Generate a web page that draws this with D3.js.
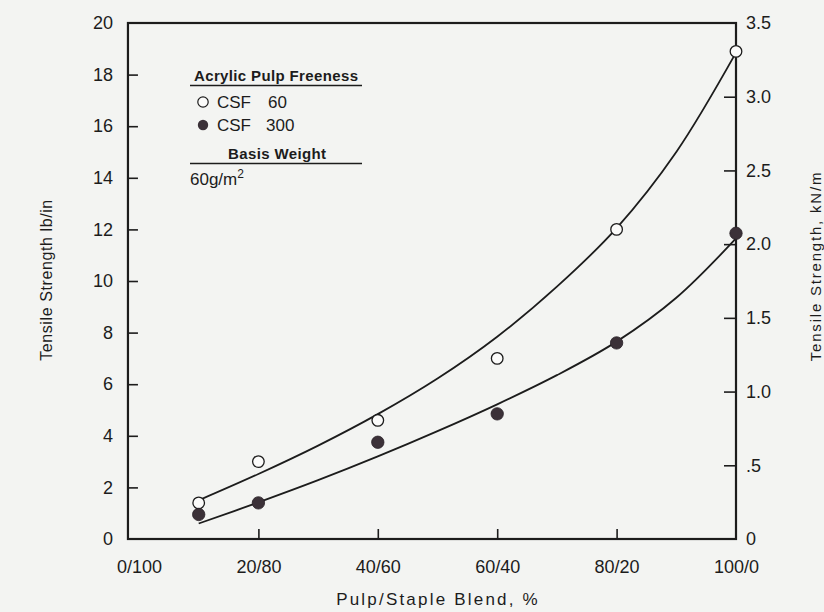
<!DOCTYPE html>
<html>
<head>
<meta charset="utf-8">
<script src="https://cdn.jsdelivr.net/npm/d3@7"></script>
<style>
  html, body { margin: 0; padding: 0; background: #f3f4f2; }
  svg { display: block; font-family: "Liberation Sans", Arial, sans-serif; }
</style>
</head>
<body>
<div id="chart"></div>
<script>
// blend categories (pulp % of pulp/staple blend)
var blendTicks = [0, 20, 40, 60, 80, 100];
var blendLabels = ["0/100", "20/80", "40/60", "60/40", "80/20", "100/0"];

// measured points, lb/in
var pointX = [10, 20, 40, 60, 80, 100];
var csf60 = [1.4, 3.0, 4.6, 7.0, 12.0, 18.9];
var csf300 = [0.95, 1.4, 3.75, 4.85, 7.6, 11.85];

// fitted curves
var fitX = [10, 20, 30, 40, 50, 60, 70, 80, 90, 100];
var fit60 = [1.5, 2.52, 3.62, 4.84, 6.22, 7.84, 9.78, 12.05, 15.0, 18.85];
var fit300 = [0.6, 1.42, 2.28, 3.2, 4.18, 5.22, 6.35, 7.65, 9.35, 11.65];

var leftTicks = [0, 2, 4, 6, 8, 10, 12, 14, 16, 18, 20];
var rightTicks = [0, 0.5, 1.0, 1.5, 2.0, 2.5, 3.0, 3.5];

var W = 824, H = 612;
var ink = "#1c1c1c", dotFill = "#3b3138";

var svg = d3.select("#chart").append("svg")
  .attr("width", W).attr("height", H);

svg.append("rect").attr("width", W).attr("height", H).attr("fill", "#f3f4f2");

var x = d3.scaleLinear().domain([0, 100]).range([139, 736]);
var y = d3.scaleLinear().domain([0, 20]).range([539, 23]);
var yKn = d3.scaleLinear().domain([0, 3.5]).range([539, 23]);
var left = x(-1.85), right = x(100);

// frame
svg.append("rect")
  .attr("x", left).attr("y", y(20))
  .attr("width", right - left).attr("height", y(0) - y(20))
  .attr("fill", "none").attr("stroke", ink).attr("stroke-width", 2.2);

// left axis
var gl = svg.append("g")
  .attr("transform", "translate(" + left + ",0)")
  .call(d3.axisLeft(y).tickValues(leftTicks).tickSize(-10).tickSizeOuter(0).tickPadding(15));
gl.select(".domain").remove();
gl.selectAll("line").attr("stroke", ink).attr("stroke-width", 1.6)
  .filter(function(d) { return d === 0 || d === 20; }).remove();
gl.selectAll("text").attr("font-size", 18).attr("fill", ink);

// right axis (kN/m)
var gr = svg.append("g")
  .attr("transform", "translate(" + right + ",0)")
  .call(d3.axisRight(yKn).tickValues(rightTicks).tickSize(-12).tickSizeOuter(0).tickPadding(10)
    .tickFormat(function(d) { return d === 0 ? "0" : d === 0.5 ? ".5" : d3.format(".1f")(d); }));
gr.select(".domain").remove();
gr.selectAll("line").attr("stroke", ink).attr("stroke-width", 1.6)
  .filter(function(d) { return d === 0 || d === 3.5; }).remove();
gr.selectAll("text").attr("font-size", 18).attr("fill", ink);

// bottom axis
var gb = svg.append("g")
  .attr("transform", "translate(0," + y(0) + ")")
  .call(d3.axisBottom(x).tickValues(blendTicks).tickSize(-10).tickSizeOuter(0).tickPadding(21)
    .tickFormat(function(d, i) { return blendLabels[i]; }));
gb.select(".domain").remove();
gb.selectAll("line").attr("stroke", ink).attr("stroke-width", 1.6)
  .filter(function(d) { return d === 0 || d === 100; }).remove();
gb.selectAll("text").attr("font-size", 18).attr("fill", ink);

// axis titles
svg.append("text")
  .attr("transform", "translate(52,280) rotate(-90)")
  .attr("text-anchor", "middle").attr("font-size", 16).attr("letter-spacing", 0.6)
  .attr("fill", ink).text("Tensile Strength lb/in");

svg.append("text")
  .attr("transform", "translate(821,266) rotate(-90)")
  .attr("text-anchor", "middle").attr("font-size", 15).attr("letter-spacing", 1.8)
  .attr("fill", ink).text("Tensile Strength, kN/m");

svg.append("text")
  .attr("x", 438).attr("y", 605)
  .attr("text-anchor", "middle").attr("font-size", 17).attr("letter-spacing", 2.2)
  .attr("fill", ink).text("Pulp/Staple Blend, %");

// fitted curves
var line = d3.line()
  .x(function(d) { return x(d[0]); })
  .y(function(d) { return y(d[1]); })
  .curve(d3.curveCatmullRom);

[fit60, fit300].forEach(function(vals) {
  svg.append("path")
    .datum(fitX.map(function(v, i) { return [v, vals[i]]; }))
    .attr("d", line)
    .attr("fill", "none").attr("stroke", ink).attr("stroke-width", 1.8);
});

// points
svg.selectAll("circle.csf60")
  .data(pointX.map(function(v, i) { return [v, csf60[i]]; }))
  .enter().append("circle").attr("class", "csf60")
  .attr("cx", function(d) { return x(d[0]); })
  .attr("cy", function(d) { return y(d[1]); })
  .attr("r", 5.8).attr("fill", "#fbfbfa").attr("stroke", ink).attr("stroke-width", 1.3);

svg.selectAll("circle.csf300")
  .data(pointX.map(function(v, i) { return [v, csf300[i]]; }))
  .enter().append("circle").attr("class", "csf300")
  .attr("cx", function(d) { return x(d[0]); })
  .attr("cy", function(d) { return y(d[1]); })
  .attr("r", 6.2).attr("fill", dotFill).attr("stroke", "#2a2228").attr("stroke-width", 0.8);

// legend
var lg = svg.append("g").attr("transform", "translate(190,0)");
lg.append("text").attr("x", 86).attr("y", 81).attr("text-anchor", "middle")
  .attr("font-family", "'Liberation Sans Narrow', 'Liberation Sans', sans-serif")
  .attr("font-size", 15).attr("font-weight", "bold").attr("textLength", 164)
  .attr("fill", ink).text("Acrylic Pulp Freeness");
lg.append("line").attr("x1", 0).attr("x2", 172).attr("y1", 85.5).attr("y2", 85.5)
  .attr("stroke", ink).attr("stroke-width", 1.6);
lg.append("circle").attr("cx", 13).attr("cy", 102).attr("r", 5.2)
  .attr("fill", "#fbfbfa").attr("stroke", ink).attr("stroke-width", 1.2);
lg.append("text").attr("x", 27).attr("y", 108).attr("font-size", 17).attr("fill", ink).text("CSF");
lg.append("text").attr("x", 78).attr("y", 108).attr("font-size", 17).attr("fill", ink).text("60");
lg.append("circle").attr("cx", 13).attr("cy", 125).attr("r", 5.2).attr("fill", dotFill);
lg.append("text").attr("x", 27).attr("y", 131).attr("font-size", 17).attr("fill", ink).text("CSF");
lg.append("text").attr("x", 76).attr("y", 131).attr("font-size", 17).attr("fill", ink).text("300");
lg.append("text").attr("x", 87).attr("y", 159).attr("text-anchor", "middle")
  .attr("font-family", "'Liberation Sans Narrow', 'Liberation Sans', sans-serif")
  .attr("font-size", 15).attr("font-weight", "bold").attr("textLength", 98)
  .attr("fill", ink).text("Basis Weight");
lg.append("line").attr("x1", 0).attr("x2", 172).attr("y1", 163.5).attr("y2", 163.5)
  .attr("stroke", ink).attr("stroke-width", 1.6);
var bw = lg.append("text").attr("x", 0).attr("y", 185).attr("font-size", 17).attr("fill", ink);
bw.append("tspan").text("60g/m");
bw.append("tspan").attr("dy", -7).attr("font-size", 12).text("2");
</script>
</body>
</html>
